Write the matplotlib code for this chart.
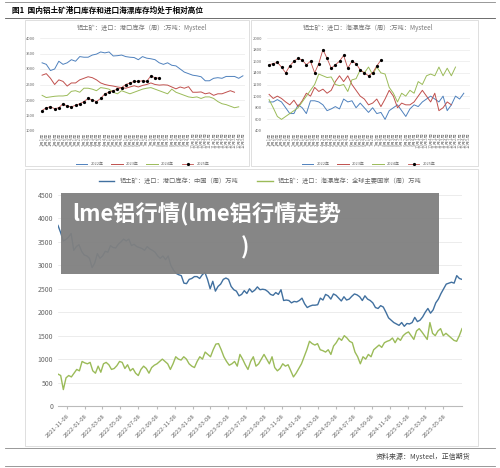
import numpy as np
import matplotlib
matplotlib.use("Agg")
import matplotlib.pyplot as plt
from matplotlib.patches import Rectangle
import pandas as pd

plt.rcParams['font.family'] = ['Noto Sans CJK SC', 'DejaVu Sans']

# ---- top-left: port inventory by year
tl_2022 = [3200,3150,2950,3000,3250,3150,3200,3300,3250,3400,3380,3380,3450,3480,3550,3520,3550,3420,3430,3450,3400,3380,3370,3300,3400,3350,3330,3300,3200,3150,3200,3120,3100,3000,2900,2850,2800,2780,2750,2620,2620,2700,2720,2700,2760,2760,2760,2700,2780]
tl_2023 = [2800,2850,2700,2500,2650,2600,2450,2550,2550,2650,2700,2750,2720,2650,2550,2500,2470,2450,2420,2400,2380,2420,2460,2420,2470,2500,2550,2500,2480,2490,2480,2420,2360,2420,2380,2430,2250,2250,2260,2200,2230,2150,2200,2200,2250,2300,2250]
tl_2024 = [2150,2080,2100,2120,2130,2130,2150,2280,2300,2250,2380,2380,2350,2300,2400,2380,2350,2250,2200,2300,2250,2200,2250,2300,2350,2380,2400,2350,2300,2250,2200,2350,2250,2200,2150,2100,2080,2100,2050,2100,2100,2050,1950,1880,1850,1800,1750,1780]
tl_2025 = [1660,1750,1780,1720,1750,1880,1800,1780,1830,1880,1950,2050,2000,1950,2050,2200,2250,2300,2350,2400,2500,2550,2600,2600,2620,2600,2780,2720,2700]
# ---- top-right: floating inventory by year
tr_2022 = [900,900,940,900,800,700,700,850,800,700,920,920,900,850,750,780,820,780,950,900,920,800,880,800,720,800,700,720,600,750,800,850,750,650,780,850,820,900,950,1000,950,900,1000,750,850,1000,950,1050]
tr_2023 = [1030,960,1000,960,900,850,930,820,920,1050,1000,1150,1080,1120,1050,1100,1250,1350,1250,1350,1200,1100,1000,950,850,880,950,820,950,1100,1000,800,880,850,850,900,1000,1100,1000,900,1050,750,800,900,850]
tr_2024 = [940,800,650,600,650,700,750,800,900,1000,1100,1200,1380,1350,1320,1330,1200,1180,1200,1080,1280,1300,1450,1400,1500,1370,1500,1400,1380,1150,1050,900,1050,1000,1100,1050,1250,1200,1350,1380,1350,1500,1350,1480,1350,1500]
tr_2025 = [1540,1560,1580,1500,1400,1520,1600,1650,1620,1540,1600,1400,1560,1800,1650,1480,1540,1600,1700,1480,1600,1560,1450,1400,1350,1400,1520,1620]
week_labels = [f"{m}月{w}周" for m in range(1, 13) for w in range(1, 5)] + ["12月5周"]
years = ["2022年", "2023年", "2024年", "2025年"]

# ---- bottom: long series
port_cn = [3850,3700,3520,3550,3600,3680,3320,3400,3440,3300,3220,3200,3150,2950,3050,3250,3150,3200,3300,3280,3420,3380,3370,3450,3500,3560,3520,3560,3420,3450,3400,3380,3360,3320,3400,3350,3320,3280,3200,3150,3200,3120,3200,3000,2900,2830,2800,2780,2620,2610,2700,2720,2760,2760,2720,2800,2850,2700,2500,2660,2450,2550,2600,2700,2730,2700,2550,2480,2450,2350,2380,2460,2400,2500,2430,2470,2540,2480,2490,2480,2440,2380,2360,2420,2380,2480,2250,2260,2250,2200,2230,2220,2250,2300,2180,2100,2130,2150,2150,2160,2300,2260,2380,2350,2280,2390,2360,2300,2240,2330,2260,2280,2340,2390,2370,2330,2250,2350,2280,2250,2200,2100,2080,2140,2110,2000,1880,1830,1780,1750,1720,1780,1700,1760,1750,1780,1890,1800,1830,1900,2000,2080,1980,2050,2200,2280,2400,2500,2600,2620,2640,2620,2780,2720,2700]
float_gl = [680,650,350,600,650,620,700,780,750,950,920,900,930,750,700,850,720,900,930,880,780,800,860,950,930,800,880,750,800,700,650,780,850,800,700,820,870,900,950,1000,950,900,780,900,1050,1000,980,1050,1000,900,850,820,950,1050,1000,1150,1100,1050,1200,1320,1330,1200,1050,950,870,900,950,850,1100,1000,880,780,950,1050,850,900,1000,1100,1000,900,1050,820,750,800,900,850,880,750,620,700,800,900,1050,1200,1380,1330,1300,1330,1200,1180,1150,1200,1100,1280,1350,1450,1400,1500,1450,1380,1350,1150,1050,900,1050,1000,1100,1050,1200,1250,1300,1250,1350,1380,1400,1450,1350,1450,1400,1500,1550,1580,1500,1420,1600,1650,1580,1500,1420,1780,1550,1500,1600,1650,1500,1550,1500,1450,1400,1380,1500,1650]

W, H = 500, 468
fig = plt.figure(figsize=(5, 4.68), dpi=100)
fig.patch.set_facecolor('white')

def fx(px): return px / W
def fy(py): return 1 - py / H

# header
fig.add_artist(plt.Line2D([fx(5), fx(495)], [fy(2), fy(2)], color='#888', lw=0.6))
fig.add_artist(plt.Line2D([fx(5), fx(495)], [fy(18), fy(18)], color='#555', lw=0.6))
fig.text(fx(12), fy(10), "图1  国内铝土矿港口库存和进口海漂库存均处于相对高位", fontsize=5.5,
         fontweight='bold', va='center')
for (x0, y0, x1, y1) in [(25, 20, 249, 166), (251, 20, 478, 166), (25, 169, 478, 446)]:
    fig.add_artist(Rectangle((fx(x0), fy(y1)), fx(x1 - x0), (y1 - y0) / H, fill=False,
                             ec='#d9d9d9', lw=0.6, transform=fig.transFigure))

cols = ['#4f81bd', '#c0504d', '#9bbb59', '#000000']

def small(ax, series, ylim, yt, title):
    for i, s in enumerate(series):
        x = np.arange(len(s))
        if i == 3:
            ax.plot(x, s, color='#c0504d', lw=0.6, marker='o', ms=1.3, mfc='black', mec='black', label=years[i])
        else:
            ax.plot(x, s, color=cols[i], lw=0.7, label=years[i])
    ax.set_ylim(*ylim)
    ax.set_yticks(yt)
    ax.set_xlim(-0.5, 48.5)
    ax.set_xticks(np.arange(49))
    ax.set_xticklabels(week_labels, rotation=90, fontsize=3.1, color='#888')
    ax.tick_params(axis='y', labelsize=3, colors='#666', length=0)
    ax.tick_params(axis='x', length=0, pad=1)
    ax.grid(axis='y', color='#e5e5e5', lw=0.4)
    for sp in ax.spines.values():
        sp.set_visible(False)
    ax.set_title(title, fontsize=4.5, color='#777', pad=6)
    ax.legend(loc='upper center', bbox_to_anchor=(0.5, -0.3), ncol=4, fontsize=2.8,
              frameon=False, handlelength=3, labelcolor='#666')

ax1 = fig.add_axes([fx(40), fy(131), fx(205), 93 / H])
small(ax1, [tl_2022, tl_2023, tl_2024, tl_2025], (1000, 4000), range(1000, 4001, 500),
      "铝土矿：进口：港口库存（周）:万吨：Mysteel")
ax2 = fig.add_axes([fx(267), fy(131), fx(203), 93 / H])
small(ax2, [tr_2022, tr_2023, tr_2024, tr_2025], (400, 2000), range(400, 2001, 200),
      "铝土矿：进口：海漂库存（周）:万吨：Mysteel")

# bottom chart
ax = fig.add_axes([fx(58), fy(406), fx(404), 211 / H])
start, end = pd.Timestamp('2021-10-08'), pd.Timestamp('2025-07-10')
xa = pd.date_range(start, end, periods=len(port_cn))
xb = pd.date_range(start, end, periods=len(float_gl))
ax.plot(xa, port_cn, color='#41709f', lw=1.0, label='铝土矿：进口：港口库存：中国（周）万吨')
ax.plot(xb, float_gl, color='#9bbb59', lw=1.0, label='铝土矿：进口：海漂库存：全球主要国家（周）万吨')
ax.set_ylim(0, 4500)
ax.set_yticks(range(0, 4501, 500))
ax.set_xlim(start, end)
ticks = pd.date_range('2021-10-08', '2025-06-08', freq='2MS') + pd.Timedelta(days=7)
ax.set_xticks(ticks)
ax.set_xticklabels([t.strftime('%Y-%m-%d') for t in ticks], rotation=45, ha='right',
                   rotation_mode='anchor', fontsize=4.3, color='#666')
ax.tick_params(axis='y', labelsize=5, colors='#666', length=0)
ax.tick_params(axis='x', length=2, color='#bbb')
ax.grid(axis='y', color='#e5e5e5', lw=0.5)
for k in ['top', 'right', 'left']:
    ax.spines[k].set_visible(False)
ax.spines['bottom'].set_color('#bbb')
ax.legend(loc='lower center', bbox_to_anchor=(0.5, 1.02), ncol=2, fontsize=4.5, frameon=False,
          handlelength=2.5, labelcolor='#666', columnspacing=3)

# footer
fig.text(fx(470), fy(457), "资料来源：Mysteel，正信期货", fontsize=5, ha='right', va='center', color='#444')
fig.add_artist(plt.Line2D([fx(5), fx(495)], [fy(448), fy(448)], color='#888', lw=0.6))
fig.add_artist(plt.Line2D([fx(5), fx(495)], [fy(466), fy(466)], color='#888', lw=0.6))

# overlay banner
fig.add_artist(Rectangle((fx(61), fy(274)), fx(378), 81 / H, fc='#808080', ec='none',
                         alpha=0.95, transform=fig.transFigure, zorder=10))
fig.text(fx(72), fy(215), "lme铝行情(lme铝行情走势", fontsize=16, fontweight='bold',
         color='white', va='center', zorder=11)
fig.text(fx(245), fy(248), ")", fontsize=16, fontweight='bold', color='white',
         va='center', ha='center', zorder=11)

fig.savefig('out.png', dpi=100)
